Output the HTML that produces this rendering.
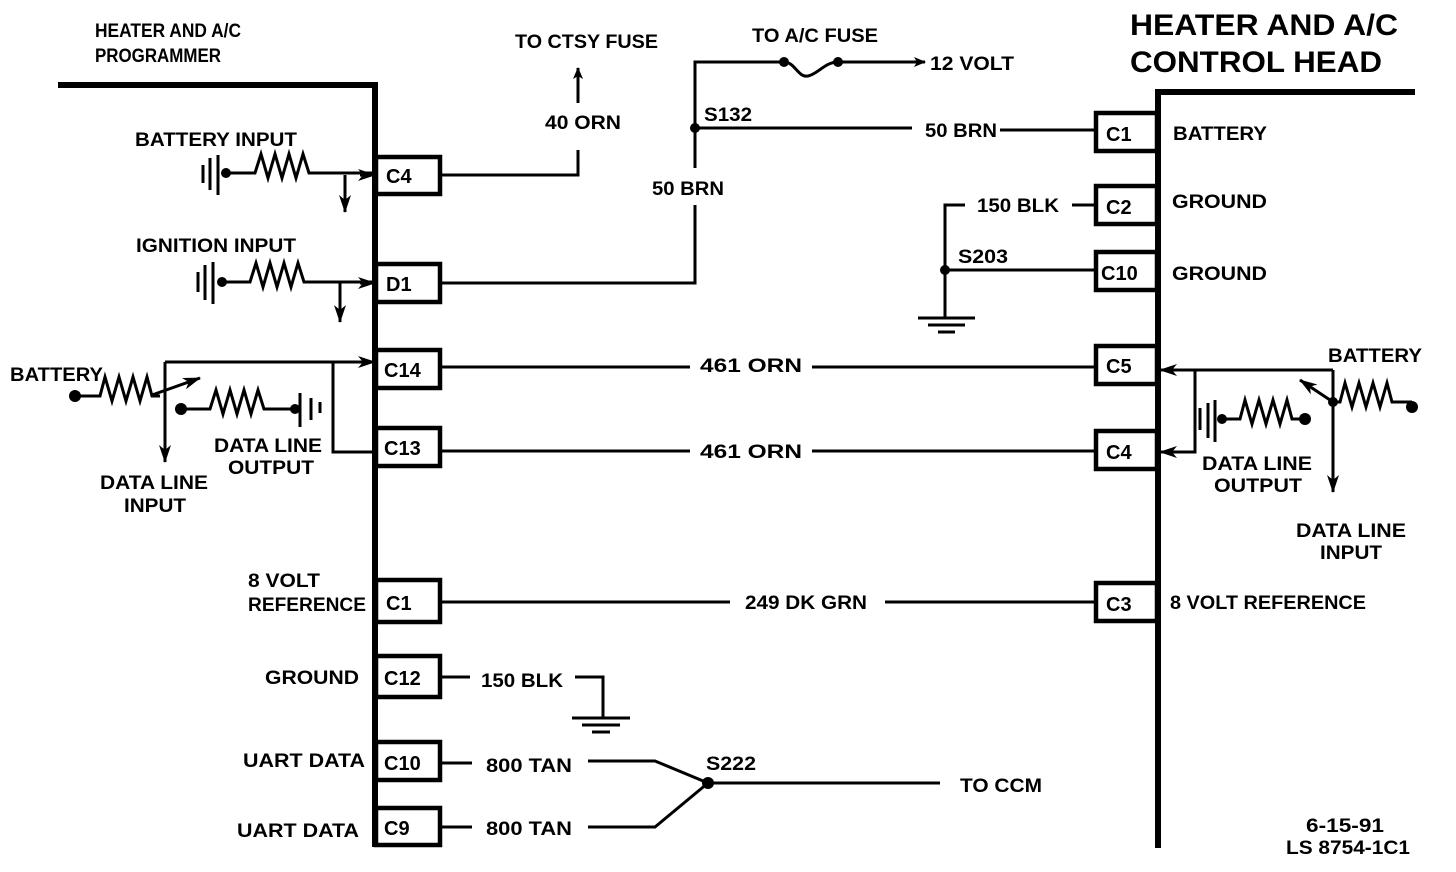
<!DOCTYPE html>
<html><head><meta charset="utf-8"><style>
html,body{margin:0;padding:0;background:#fff;}
svg{display:block}
text{font-family:"Liberation Sans",sans-serif;font-weight:bold;font-size:19px;fill:#000}
.b{font-size:20px}
</style></head><body>
<svg width="1456" height="872" viewBox="0 0 1456 872" xmlns="http://www.w3.org/2000/svg">
<defs>
<marker id="ah" markerWidth="12" markerHeight="10" refX="11" refY="5" orient="auto" markerUnits="userSpaceOnUse"><path d="M0,0 L12,5 L0,10 L3,5 Z" fill="#000"/></marker>
<marker id="ahb" markerWidth="18" markerHeight="12" refX="17" refY="6" orient="auto" markerUnits="userSpaceOnUse"><path d="M0,0 L18,6 L0,12 L5,6 Z" fill="#000"/></marker>
</defs>
<g stroke="#000" fill="none" stroke-width="3">
<path d="M58,85 H375 V847" stroke-width="6"/>
<path d="M1158,848 V92 H1415" stroke-width="6"/>
<rect x="376" y="157" width="64" height="37" stroke-width="4.5"/>
<rect x="376" y="264" width="64" height="38" stroke-width="4.5"/>
<rect x="376" y="350" width="64" height="38" stroke-width="4.5"/>
<rect x="376" y="428" width="64" height="38" stroke-width="4.5"/>
<rect x="376" y="580" width="64" height="42" stroke-width="4.5"/>
<rect x="376" y="656" width="64" height="41" stroke-width="4.5"/>
<rect x="376" y="742" width="64" height="38" stroke-width="4.5"/>
<rect x="376" y="808" width="64" height="37" stroke-width="4.5"/>
<rect x="1096" y="113" width="61" height="38" stroke-width="4.5"/>
<rect x="1096" y="186" width="61" height="38" stroke-width="4.5"/>
<rect x="1096" y="252" width="61" height="38" stroke-width="4.5"/>
<rect x="1096" y="346" width="61" height="38" stroke-width="4.5"/>
<rect x="1096" y="431" width="61" height="38" stroke-width="4.5"/>
<rect x="1096" y="583" width="61" height="38" stroke-width="4.5"/>

<path d="M440,175 H578 V150"/>
<path d="M578,103 V68" marker-end="url(#ah)"/>
<path d="M440,283 H695 V205"/>
<path d="M695,168 V62 H780"/>
<path d="M784,62 C795,62 798,78 808,76 C818,74 825,62 838,62"/>
<path d="M838,62 H925" marker-end="url(#ah)"/>
<path d="M695,128 H912"/>
<path d="M1000,130 H1096"/>
<path d="M1096,205 H1072"/>
<path d="M965,205 H945 V318"/>
<path d="M945,270 H1096"/>
<path d="M918,318 H975 M928,325 H965 M938,332 H955"/>
<path d="M440,367 H690 M812,367 H1096"/>
<path d="M440,451 H690 M812,451 H1096"/>
<path d="M440,602 H730 M885,602 H1096"/>
<path d="M440,677 H470 M575,677 H603 V718"/>
<path d="M572,718 H630 M582,725 H620 M592,732 H610"/>
<path d="M440,763 H472 M588,761 H655 L708,783 H940"/>
<path d="M440,827 H472 M588,827 H655 L708,783"/>

<path d="M203,165 V183 M210,158 V190 M218,155 V195"/>
<path d="M226,173 H255 l6,-19 l7,24 l7,-24 l7,24 l7,-24 l7,24 l7,-24 l6,19 H375" />
<path d="M360,175 H375" marker-end="url(#ahb)"/>
<path d="M345,175 V212" marker-end="url(#ahb)"/>
<path d="M198,272 V292 M205,265 V300 M213,262 V304"/>
<path d="M222,282 H250 l6,-19 l7,24 l7,-24 l7,24 l7,-24 l7,24 l7,-24 l6,19 H375"/>
<path d="M360,283 H375" marker-end="url(#ahb)"/>
<path d="M340,283 V322" marker-end="url(#ahb)"/>
<path d="M75,396 H100 l5,-19 l7,24 l7,-24 l7,24 l7,-24 l7,24 l7,-24 l5,19 H160"/>
<path d="M152,395 L200,378" marker-end="url(#ahb)"/>
<path d="M165,362 V462" marker-end="url(#ahb)"/>
<path d="M165,362 H375" marker-end="url(#ahb)"/>
<path d="M333,362 V452 H375"/>
<path d="M181,409 H210 l6,-19 l7,24 l7,-24 l7,24 l7,-24 l7,24 l7,-24 l6,19 H294"/>
<path d="M300,393 V427 M311,398 V420 M320,402 V413"/>
<path d="M1333,370 H1160" marker-end="url(#ahb)"/>
<path d="M1195,370 V452 H1160" marker-end="url(#ahb)"/>
<path d="M1333,370 V492" marker-end="url(#ahb)"/>
<path d="M1333,402 L1300,380" marker-end="url(#ahb)"/>
<path d="M1333,402 H1340 l5,-19 l7,24 l7,-24 l7,24 l7,-24 l7,24 l7,-24 l5,19 H1412"/>
<path d="M1222,419 H1240 l5,-19 l7,24 l7,-24 l7,24 l7,-24 l7,24 l7,-24 l5,19 H1305"/>
<path d="M1200,408 V430 M1208,403 V438 M1215,400 V442"/>
</g>
<g fill="#000">
<circle cx="226" cy="173" r="5"/><circle cx="222" cy="282" r="5"/>
<circle cx="75" cy="396" r="6"/><circle cx="181" cy="409" r="6"/><circle cx="295" cy="409" r="5"/>
<circle cx="695" cy="128" r="5"/><circle cx="784" cy="62" r="5"/><circle cx="838" cy="62" r="5"/>
<circle cx="945" cy="270" r="5"/><circle cx="708" cy="783" r="6"/>
<circle cx="1333" cy="402" r="5"/><circle cx="1412" cy="407" r="6"/><circle cx="1305" cy="419" r="6"/><circle cx="1222" cy="419" r="5"/>
</g>
<text x="95" y="37" textLength="146" lengthAdjust="spacingAndGlyphs">HEATER AND A/C</text>
<text x="95" y="62" textLength="126" lengthAdjust="spacingAndGlyphs">PROGRAMMER</text>
<text x="1130" y="35" style="font-size:30px" textLength="268" lengthAdjust="spacingAndGlyphs">HEATER AND A/C</text>
<text x="1130" y="72" style="font-size:30px" textLength="252" lengthAdjust="spacingAndGlyphs">CONTROL HEAD</text>
<text x="515" y="48" textLength="143" lengthAdjust="spacingAndGlyphs">TO CTSY FUSE</text>
<text x="545" y="129" textLength="76" lengthAdjust="spacingAndGlyphs">40 ORN</text>
<text x="752" y="42" textLength="126" lengthAdjust="spacingAndGlyphs">TO A/C FUSE</text>
<text x="930" y="70" textLength="84" lengthAdjust="spacingAndGlyphs">12 VOLT</text>
<text x="704" y="121" textLength="48" lengthAdjust="spacingAndGlyphs">S132</text>
<text x="925" y="137" textLength="72" lengthAdjust="spacingAndGlyphs">50 BRN</text>
<text x="652" y="195" textLength="72" lengthAdjust="spacingAndGlyphs">50 BRN</text>
<text x="977" y="212" textLength="82" lengthAdjust="spacingAndGlyphs">150 BLK</text>
<text x="958" y="263" textLength="50" lengthAdjust="spacingAndGlyphs">S203</text>
<text x="135" y="146" textLength="162" lengthAdjust="spacingAndGlyphs">BATTERY INPUT</text>
<text x="136" y="252" textLength="160" lengthAdjust="spacingAndGlyphs">IGNITION INPUT</text>
<text x="10" y="381" textLength="93" lengthAdjust="spacingAndGlyphs">BATTERY</text>
<text x="214" y="452" textLength="108" lengthAdjust="spacingAndGlyphs">DATA LINE</text>
<text x="228" y="474" textLength="86" lengthAdjust="spacingAndGlyphs">OUTPUT</text>
<text x="100" y="489" textLength="108" lengthAdjust="spacingAndGlyphs">DATA LINE</text>
<text x="124" y="512" textLength="62" lengthAdjust="spacingAndGlyphs">INPUT</text>
<text class="b" x="386" y="183">C4</text><text class="b" x="386" y="291">D1</text><text class="b" x="384" y="377">C14</text><text class="b" x="384" y="455">C13</text>
<text class="b" x="386" y="610">C1</text><text class="b" x="384" y="685">C12</text><text class="b" x="384" y="770">C10</text><text class="b" x="384" y="835">C9</text>
<text class="b" x="1106" y="141">C1</text><text class="b" x="1106" y="214">C2</text><text class="b" x="1101" y="280">C10</text>
<text class="b" x="1106" y="373">C5</text><text class="b" x="1106" y="459">C4</text><text class="b" x="1106" y="611">C3</text>
<text x="1173" y="140" textLength="94" lengthAdjust="spacingAndGlyphs">BATTERY</text>
<text x="1172" y="208" textLength="95" lengthAdjust="spacingAndGlyphs">GROUND</text>
<text x="1172" y="280" textLength="95" lengthAdjust="spacingAndGlyphs">GROUND</text>
<text x="1170" y="609" textLength="196" lengthAdjust="spacingAndGlyphs">8 VOLT REFERENCE</text>
<text x="700" y="372" textLength="102" lengthAdjust="spacingAndGlyphs">461 ORN</text>
<text x="700" y="458" textLength="102" lengthAdjust="spacingAndGlyphs">461 ORN</text>
<text x="745" y="609" textLength="122" lengthAdjust="spacingAndGlyphs">249 DK GRN</text>
<text x="248" y="587" textLength="72" lengthAdjust="spacingAndGlyphs">8 VOLT</text>
<text x="248" y="611" textLength="118" lengthAdjust="spacingAndGlyphs">REFERENCE</text>
<text x="265" y="684" textLength="94" lengthAdjust="spacingAndGlyphs">GROUND</text>
<text x="243" y="767" textLength="122" lengthAdjust="spacingAndGlyphs">UART DATA</text>
<text x="237" y="837" textLength="122" lengthAdjust="spacingAndGlyphs">UART DATA</text>
<text x="481" y="687" textLength="82" lengthAdjust="spacingAndGlyphs">150 BLK</text>
<text x="486" y="772" textLength="86" lengthAdjust="spacingAndGlyphs">800 TAN</text>
<text x="486" y="835" textLength="86" lengthAdjust="spacingAndGlyphs">800 TAN</text>
<text x="706" y="770" textLength="50" lengthAdjust="spacingAndGlyphs">S222</text>
<text x="960" y="792" textLength="82" lengthAdjust="spacingAndGlyphs">TO CCM</text>
<text x="1328" y="362" textLength="94" lengthAdjust="spacingAndGlyphs">BATTERY</text>
<text x="1202" y="470" textLength="110" lengthAdjust="spacingAndGlyphs">DATA LINE</text>
<text x="1214" y="492" textLength="88" lengthAdjust="spacingAndGlyphs">OUTPUT</text>
<text x="1296" y="537" textLength="110" lengthAdjust="spacingAndGlyphs">DATA LINE</text>
<text x="1320" y="559" textLength="62" lengthAdjust="spacingAndGlyphs">INPUT</text>
<text x="1306" y="832" textLength="78" lengthAdjust="spacingAndGlyphs">6-15-91</text>
<text x="1286" y="854" textLength="124" lengthAdjust="spacingAndGlyphs">LS 8754-1C1</text>
</svg>
</body></html>
